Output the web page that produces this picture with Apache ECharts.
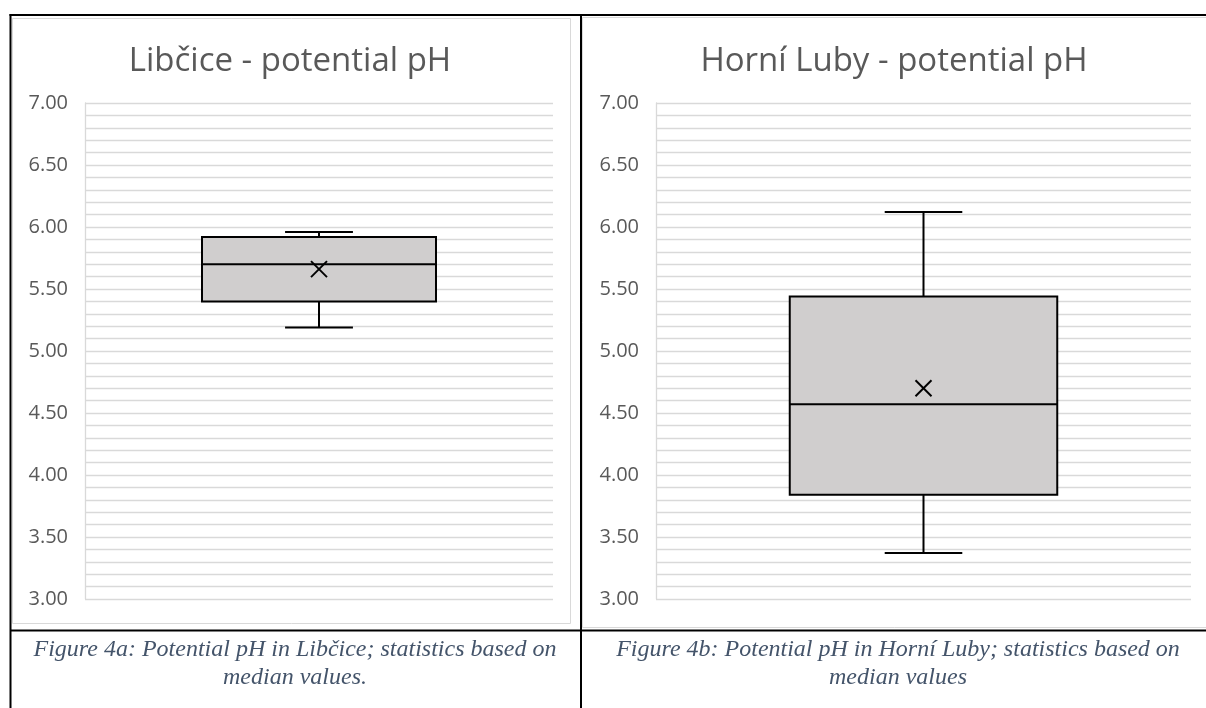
<!DOCTYPE html>
<html>
<head>
<meta charset="utf-8">
<script src="https://cdn.jsdelivr.net/npm/echarts@6/dist/echarts.min.js"></script>
<style>
html,body{margin:0;padding:0;background:#fff;}
#chart{width:1206px;height:708px;}
</style>
</head>
<body>
<div id="chart"></div>
<script>
// ---- data ----
const categories = ['Libčice', 'Horní Luby'];
const chartTitles = ['Libčice - potential pH', 'Horní Luby - potential pH'];
const minValues = [5.19, 3.37];
const q1Values = [5.40, 3.84];
const medianValues = [5.70, 4.57];
const q3Values = [5.92, 5.44];
const maxValues = [5.96, 6.12];
const meanValues = [5.66, 4.70];
const yAxisMin = 3.0;
const yAxisMax = 7.0;
const yAxisStep = 0.5;
const captionLines = [
  ['Figure 4a: Potential pH in Libčice; statistics based on', 'median values.'],
  ['Figure 4b: Potential pH in Horní Luby; statistics based on', 'median values']
];

// ---- layout ----
const grids = [
  { left: 85, top: 103, width: 468, height: 496 },
  { left: 656, top: 103, width: 535, height: 496 }
];
const titleCenters = [[290, 62], [894, 62]];
const captionCenters = [295, 898];
const labelFont = '"Open Sans", sans-serif';
const gridColor = '#D9D9D9';
const textGray = '#595959';

const chart = echarts.init(document.getElementById('chart'), null, { renderer: 'canvas' });

function renderBox(params, api) {
  const x = api.value(0);
  const band = api.size([1, 0])[0];
  const bw = band * 0.5;
  const cw = band * 0.145;
  const pMin = api.coord([x, api.value(1)]);
  const pQ1 = api.coord([x, api.value(2)]);
  const pMed = api.coord([x, api.value(3)]);
  const pQ3 = api.coord([x, api.value(4)]);
  const pMax = api.coord([x, api.value(5)]);
  const pMean = api.coord([x, api.value(6)]);
  const cx = pMed[0];
  const ls = { stroke: '#000', lineWidth: 2 };
  const m = 8;
  return {
    type: 'group',
    children: [
      { type: 'line', shape: { x1: cx, y1: pMax[1], x2: cx, y2: pQ3[1] }, style: ls },
      { type: 'line', shape: { x1: cx, y1: pQ1[1], x2: cx, y2: pMin[1] }, style: ls },
      { type: 'line', shape: { x1: cx - cw / 2, y1: pMax[1], x2: cx + cw / 2, y2: pMax[1] }, style: ls },
      { type: 'line', shape: { x1: cx - cw / 2, y1: pMin[1], x2: cx + cw / 2, y2: pMin[1] }, style: ls },
      { type: 'rect', shape: { x: cx - bw / 2, y: pQ3[1], width: bw, height: pQ1[1] - pQ3[1] },
        style: { fill: '#D0CECE', stroke: '#000', lineWidth: 2 } },
      { type: 'line', shape: { x1: cx - bw / 2, y1: pMed[1], x2: cx + bw / 2, y2: pMed[1] }, style: ls },
      { type: 'line', shape: { x1: pMean[0] - m, y1: pMean[1] - m, x2: pMean[0] + m, y2: pMean[1] + m }, style: { stroke: '#000', lineWidth: 2 } },
      { type: 'line', shape: { x1: pMean[0] - m, y1: pMean[1] + m, x2: pMean[0] + m, y2: pMean[1] - m }, style: { stroke: '#000', lineWidth: 2 } }
    ]
  };
}

const xAxes = [], yAxes = [], series = [], gridOpts = [];
categories.forEach((cat, i) => {
  gridOpts.push(Object.assign({ containLabel: false }, grids[i]));
  xAxes.push({
    type: 'category', gridIndex: i, data: [cat],
    axisLine: { show: false }, axisTick: { show: false }, axisLabel: { show: false }, splitLine: { show: false }
  });
  yAxes.push({
    type: 'value', gridIndex: i, min: yAxisMin, max: yAxisMax, interval: yAxisStep,
    axisLine: { show: true, lineStyle: { color: gridColor, width: 1.3 } },
    axisTick: { show: false },
    axisLabel: { color: textGray, fontSize: 20, fontFamily: labelFont, margin: 17,
      formatter: v => v.toFixed(2) },
    splitLine: { show: true, lineStyle: { color: gridColor, width: 1.3 } },
    minorTick: { show: false, splitNumber: 5 },
    minorSplitLine: { show: true, lineStyle: { color: gridColor, width: 1.3 } }
  });
  series.push({
    type: 'custom', xAxisIndex: i, yAxisIndex: i,
    renderItem: renderBox,
    encode: { x: 0, y: [1, 2, 3, 4, 5, 6] },
    data: [[0, minValues[i], q1Values[i], medianValues[i], q3Values[i], maxValues[i], meanValues[i]]],
    z: 5
  });
});

const graphics = [];
// chart area borders
graphics.push({ type: 'rect', shape: { x: 12.5, y: 18.5, width: 558, height: 605 },
  style: { fill: 'none', stroke: '#D9D9D9', lineWidth: 1 }, z: 1 });
graphics.push({ type: 'rect', shape: { x: 582.5, y: 17.5, width: 660, height: 610 },
  style: { fill: 'none', stroke: '#D9D9D9', lineWidth: 1 }, z: 1 });
// titles
chartTitles.forEach((t, i) => {
  graphics.push({ type: 'text', x: titleCenters[i][0], y: titleCenters[i][1], z: 10,
    style: { text: t, fill: textGray, font: '33px "Open Sans", sans-serif', align: 'center', verticalAlign: 'middle' } });
});
// table lines
const black = { stroke: '#000', lineWidth: 2 };
graphics.push({ type: 'line', shape: { x1: 9.5, y1: 15, x2: 1206, y2: 15 }, style: black, z: 20 });
graphics.push({ type: 'line', shape: { x1: 10.5, y1: 14, x2: 10.5, y2: 708 }, style: black, z: 20 });
graphics.push({ type: 'line', shape: { x1: 581, y1: 14, x2: 581, y2: 708 }, style: black, z: 20 });
graphics.push({ type: 'line', shape: { x1: 10, y1: 630.5, x2: 1206, y2: 630.5 }, style: black, z: 20 });
// captions
captionLines.forEach((lines, i) => {
  lines.forEach((ln, j) => {
    graphics.push({ type: 'text', x: captionCenters[i], y: 650 + j * 28, z: 10,
      style: { text: ln, fill: '#44546A', font: 'italic 24px "Liberation Serif", "Times New Roman", serif',
        align: 'center', verticalAlign: 'middle' } });
  });
});

chart.setOption({
  animation: false,
  backgroundColor: '#fff',
  grid: gridOpts,
  xAxis: xAxes,
  yAxis: yAxes,
  series: series,
  graphic: { elements: graphics }
});
</script>
</body>
</html>
